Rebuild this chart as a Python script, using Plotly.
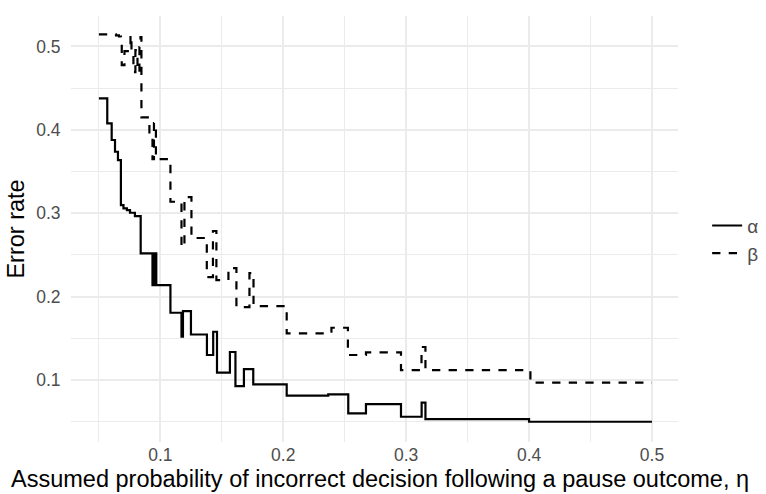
import plotly.graph_objects as go

# alpha (solid) step breakpoints: eta, error rate
alpha_eta = [0.050, 0.0568, 0.0604, 0.0631, 0.0655, 0.0679, 0.0700, 0.0728, 0.0753, 0.0793,
             0.0840, 0.0936, 0.0952, 0.0967, 0.1082, 0.1172, 0.1184, 0.1249, 0.1379, 0.1430,
             0.1461, 0.1566, 0.1611, 0.1680, 0.1756, 0.2028, 0.2366, 0.2529, 0.2673, 0.2958,
             0.3126, 0.3157, 0.4000, 0.5000]
alpha_val = [0.4378, 0.4078, 0.3878, 0.3737, 0.3638, 0.3098, 0.3059, 0.3038, 0.3006, 0.2966,
             0.2519, 0.2139, 0.2519, 0.2139, 0.1807, 0.1519, 0.1827, 0.1546, 0.1300, 0.1579,
             0.1088, 0.1336, 0.0928, 0.1132, 0.0948, 0.0812, 0.0829, 0.0601, 0.0712, 0.0560,
             0.0728, 0.0532, 0.0500, 0.0500]

# beta (dashed) step breakpoints
beta_eta = [0.050, 0.0639, 0.0663, 0.0679, 0.0686, 0.0708, 0.0757, 0.0765, 0.0781, 0.0797,
            0.0814, 0.0830, 0.0838, 0.0846, 0.0911, 0.0936, 0.0948, 0.0964, 0.1082, 0.1172,
            0.1196, 0.1253, 0.1378, 0.1428, 0.1456, 0.1554, 0.1619, 0.1725, 0.1758, 0.2028,
            0.2364, 0.2392, 0.2526, 0.2673, 0.2958, 0.3125, 0.3157, 0.4011, 0.5000]
beta_val = [0.5145, 0.5133, 0.5119, 0.5104, 0.4777, 0.4945, 0.5137, 0.4933, 0.4693, 0.4957,
            0.4693, 0.4993, 0.5113, 0.4150, 0.3938, 0.3650, 0.4082, 0.3650, 0.3138, 0.2595,
            0.3194, 0.2703, 0.2235, 0.2787, 0.2199, 0.2343, 0.1875, 0.2283, 0.1887, 0.1560,
            0.1579, 0.1627, 0.1300, 0.1332, 0.1120, 0.1396, 0.1120, 0.0968, 0.0968]

x_ticks = [0.1, 0.2, 0.3, 0.4, 0.5]
y_ticks = [0.1, 0.2, 0.3, 0.4, 0.5]
minor_ticks = [0.05, 0.15, 0.25, 0.35, 0.45]

x_title = "Assumed probability of incorrect decision following a pause outcome, η"
y_title = "Error rate"

FONT = "Liberation Sans, Arial, sans-serif"
GRID = "#ebebeb"

fig = go.Figure()
fig.add_trace(go.Scatter(x=alpha_eta, y=alpha_val, mode="lines", name="α",
                         line=dict(color="black", width=2.2, shape="hv")))
fig.add_trace(go.Scatter(x=beta_eta, y=beta_val, mode="lines", name="β",
                         line=dict(color="black", width=2.2, shape="hv", dash="8.3px,8.3px")))

fig.add_annotation(text=x_title, xref="paper", yref="paper", x=0.509, y=-0.087,
                   xanchor="center", yanchor="middle", showarrow=False, borderpad=0,
                   font=dict(family=FONT, size=23.5, color="black"))

fig.update_layout(
    width=766, height=494,
    margin=dict(l=71, r=88, t=16, b=52, autoexpand=False),
    paper_bgcolor="white", plot_bgcolor="white",
    font=dict(family=FONT, size=17.5, color="#4d4d4d"),
    showlegend=True,
    legend=dict(x=1.048, y=0.475, xanchor="left", yanchor="middle",
                font=dict(size=19, color="#4d4d4d"), tracegroupgap=0,
                bgcolor="rgba(0,0,0,0)"),
    xaxis=dict(range=[0.0273, 0.5212], tickvals=x_ticks, ticktext=[str(t) for t in x_ticks],
               showgrid=True, gridcolor=GRID, gridwidth=2, zeroline=False, showline=False,
               ticks="", automargin=False,
               tickfont=dict(size=17.5, color="#4d4d4d"),
               minor=dict(tickvals=minor_ticks, showgrid=True, gridcolor=GRID, gridwidth=1)),
    yaxis=dict(range=[0.0257, 0.5365], tickvals=y_ticks, ticktext=[str(t) for t in y_ticks],
               showgrid=True, gridcolor=GRID, gridwidth=2, zeroline=False, showline=False,
               ticks="outside", ticklen=6, tickcolor="rgba(0,0,0,0)", automargin=False,
               tickfont=dict(size=17.5, color="#4d4d4d"),
               minor=dict(tickvals=minor_ticks, showgrid=True, gridcolor=GRID, gridwidth=1),
               title=dict(text=y_title, font=dict(size=23.5, color="black"), standoff=4)),
)

fig.write_html("out.html")
